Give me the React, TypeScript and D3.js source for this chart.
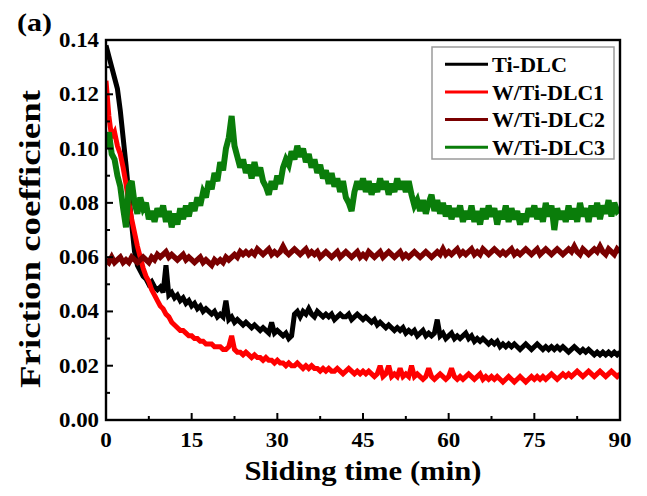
import React from "react";
import * as d3 from "d3";

// ---- data (friction coefficient sampled every 0.5 min, 0..90 min) ----
const TIME_STEP = 0.5;

const tiDLC = [
  0.138,0.134,0.130,0.126,0.122,0.114,0.104,0.094,0.083,0.072,
  0.062,0.057,0.055,0.053,0.052,0.050,0.051,0.049,0.048,0.049,
  0.047,0.057,0.046,0.047,0.045,0.046,0.044,0.045,0.043,0.044,
  0.042,0.043,0.041,0.042,0.040,0.041,0.040,0.039,0.040,0.038,
  0.039,0.038,0.044,0.037,0.038,0.036,0.037,0.036,0.035,0.036,
  0.035,0.034,0.035,0.034,0.033,0.034,0.033,0.032,0.036,0.032,
  0.033,0.032,0.031,0.032,0.030,0.031,0.039,0.040,0.038,0.040,
  0.039,0.041,0.039,0.038,0.040,0.039,0.038,0.039,0.038,0.039,
  0.037,0.038,0.039,0.038,0.038,0.039,0.037,0.038,0.039,0.038,
  0.037,0.038,0.037,0.036,0.037,0.035,0.036,0.035,0.034,0.035,
  0.034,0.033,0.034,0.033,0.034,0.032,0.033,0.032,0.033,0.031,
  0.032,0.033,0.031,0.032,0.031,0.032,0.037,0.031,0.032,0.030,
  0.031,0.032,0.030,0.031,0.030,0.031,0.032,0.030,0.031,0.029,
  0.030,0.029,0.030,0.029,0.028,0.029,0.028,0.029,0.027,0.028,
  0.027,0.028,0.027,0.028,0.027,0.026,0.027,0.028,0.027,0.026,
  0.027,0.028,0.027,0.026,0.027,0.026,0.027,0.026,0.027,0.026,
  0.027,0.026,0.025,0.026,0.027,0.026,0.025,0.026,0.025,0.026,
  0.025,0.024,0.025,0.024,0.025,0.024,0.025,0.024,0.025,0.024,
  0.025,
];

const wTiDLC1 = [
  0.125,0.112,0.104,0.106,0.101,0.098,0.093,0.087,0.080,0.074,
  0.069,0.064,0.060,0.056,0.053,0.051,0.048,0.046,0.044,0.042,
  0.041,0.039,0.038,0.036,0.035,0.034,0.033,0.033,0.032,0.031,
  0.031,0.030,0.030,0.029,0.029,0.028,0.028,0.028,0.027,0.027,
  0.027,0.026,0.026,0.027,0.031,0.026,0.025,0.025,0.024,0.025,
  0.024,0.023,0.024,0.023,0.023,0.022,0.023,0.022,0.022,0.021,
  0.022,0.021,0.021,0.020,0.021,0.020,0.020,0.021,0.020,0.019,
  0.020,0.019,0.020,0.019,0.019,0.018,0.019,0.018,0.019,0.018,
  0.018,0.019,0.018,0.017,0.018,0.019,0.018,0.017,0.018,0.017,
  0.018,0.017,0.018,0.017,0.016,0.017,0.020,0.016,0.017,0.020,
  0.016,0.017,0.016,0.019,0.016,0.017,0.016,0.020,0.016,0.017,
  0.016,0.015,0.016,0.019,0.016,0.015,0.016,0.017,0.016,0.015,
  0.016,0.019,0.016,0.015,0.016,0.015,0.016,0.017,0.016,0.015,
  0.016,0.017,0.015,0.016,0.015,0.016,0.015,0.016,0.015,0.014,
  0.015,0.016,0.015,0.014,0.015,0.016,0.015,0.014,0.015,0.016,
  0.015,0.016,0.015,0.016,0.015,0.016,0.017,0.016,0.015,0.016,
  0.017,0.016,0.017,0.016,0.017,0.018,0.017,0.016,0.017,0.018,
  0.017,0.016,0.017,0.018,0.017,0.016,0.017,0.018,0.017,0.016,
  0.017,
];

const wTiDLC2 = [
  0.059,0.058,0.060,0.058,0.059,0.060,0.058,0.059,0.058,0.060,
  0.059,0.058,0.059,0.060,0.059,0.058,0.060,0.059,0.061,0.060,
  0.061,0.062,0.060,0.061,0.060,0.059,0.060,0.061,0.059,0.060,
  0.059,0.058,0.059,0.060,0.058,0.059,0.058,0.057,0.059,0.058,
  0.059,0.058,0.060,0.059,0.060,0.061,0.060,0.062,0.061,0.062,
  0.061,0.062,0.061,0.063,0.062,0.061,0.062,0.063,0.061,0.062,
  0.061,0.062,0.064,0.062,0.061,0.062,0.063,0.062,0.061,0.062,
  0.063,0.061,0.062,0.061,0.062,0.060,0.061,0.062,0.061,0.060,
  0.061,0.062,0.060,0.061,0.062,0.061,0.060,0.061,0.062,0.060,
  0.061,0.060,0.062,0.061,0.060,0.061,0.062,0.060,0.061,0.062,
  0.061,0.060,0.061,0.062,0.060,0.061,0.060,0.061,0.062,0.061,
  0.060,0.061,0.062,0.061,0.060,0.061,0.062,0.061,0.063,0.061,
  0.062,0.061,0.062,0.063,0.061,0.062,0.061,0.062,0.063,0.061,
  0.062,0.061,0.063,0.062,0.061,0.062,0.063,0.062,0.061,0.062,
  0.061,0.062,0.063,0.061,0.062,0.061,0.062,0.063,0.062,0.061,
  0.062,0.063,0.061,0.062,0.063,0.062,0.061,0.062,0.063,0.062,
  0.061,0.062,0.063,0.062,0.064,0.062,0.061,0.063,0.062,0.061,
  0.062,0.063,0.062,0.064,0.062,0.061,0.063,0.062,0.061,0.063,
  0.062,
];

const wTiDLC3 = [
  0.100,0.106,0.098,0.096,0.090,0.086,0.078,0.071,0.086,0.088,
  0.080,0.076,0.082,0.078,0.080,0.074,0.077,0.073,0.078,0.075,
  0.079,0.073,0.077,0.071,0.076,0.072,0.078,0.074,0.079,0.075,
  0.080,0.077,0.082,0.079,0.084,0.082,0.088,0.085,0.091,0.088,
  0.095,0.092,0.100,0.104,0.112,0.101,0.097,0.093,0.096,0.091,
  0.094,0.089,0.095,0.090,0.093,0.088,0.086,0.083,0.088,0.085,
  0.090,0.087,0.093,0.096,0.094,0.099,0.096,0.101,0.097,0.100,
  0.095,0.098,0.093,0.096,0.091,0.094,0.089,0.092,0.087,0.091,
  0.086,0.089,0.084,0.088,0.082,0.080,0.077,0.084,0.088,0.085,
  0.089,0.084,0.088,0.083,0.087,0.084,0.089,0.085,0.088,0.083,
  0.087,0.084,0.089,0.085,0.088,0.084,0.088,0.083,0.079,0.081,
  0.077,0.081,0.076,0.080,0.083,0.077,0.081,0.076,0.080,0.075,
  0.079,0.074,0.078,0.075,0.079,0.073,0.077,0.074,0.079,0.073,
  0.077,0.072,0.078,0.074,0.079,0.075,0.078,0.072,0.077,0.074,
  0.079,0.073,0.078,0.074,0.077,0.072,0.076,0.073,0.078,0.075,
  0.079,0.074,0.078,0.073,0.080,0.075,0.079,0.070,0.078,0.074,
  0.077,0.073,0.079,0.074,0.078,0.073,0.080,0.075,0.078,0.073,
  0.079,0.075,0.080,0.074,0.079,0.076,0.081,0.075,0.080,0.077,
  0.078,
];

const seriesNames = ["Ti-DLC", "W/Ti-DLC1", "W/Ti-DLC2", "W/Ti-DLC3"];
const seriesValues = [tiDLC, wTiDLC1, wTiDLC2, wTiDLC3];
const seriesColors = ["#000000", "#ff0000", "#7a0000", "#0a7d0a"];

const xTicks = [0, 15, 30, 45, 60, 75, 90];
const xMinorTicks = [7.5, 22.5, 37.5, 52.5, 67.5, 82.5];
const yTicks = [0.0, 0.02, 0.04, 0.06, 0.08, 0.1, 0.12, 0.14];
const yMinorTicks = [0.01, 0.03, 0.05, 0.07, 0.09, 0.11, 0.13];

const xTitle = "Sliding time (min)";
const yTitle = "Friction coefficient";
const panelLabel = "(a)";

// ---- layout ----
const W = 647;
const H = 496;
const left = 106;
const right = 620;
const top = 40;
const bottom = 420;

function txtStyle(size: number): React.CSSProperties {
  return { fontFamily: '"Liberation Serif"', fontWeight: 700, fontSize: size };
}

export default function App() {
  const x = d3.scaleLinear().domain([0, 90]).range([left, right]);
  const y = d3.scaleLinear().domain([0, 0.14]).range([bottom, top]);

  const line = d3
    .line<number>()
    .x((_, i) => x(i * TIME_STEP))
    .y((d) => y(d));

  const legendX = 432;
  const legendY = 47;
  const legendW = 182;
  const legendH = 112;
  const rowY = [64.3, 92, 119.5, 147.3];
  const legendTextLen = [75, 112, 113, 113];
  const strokeW = [5, 5, 5.5, 6];

  return (
    <svg
      width={W}
      height={H}
      viewBox={`0 0 ${W} ${H}`}
      style={{ position: "absolute", left: 0, top: 0, background: "#fff" }}
    >
      <rect x={0} y={0} width={W} height={H} fill="#fff" />
      <defs>
        <clipPath id="plotClip">
          <rect x={left} y={top} width={right - left} height={bottom - top} />
        </clipPath>
      </defs>

      {/* data lines */}
      <g clipPath="url(#plotClip)">
        {seriesValues.map((vals, k) => (
          <path
            key={seriesNames[k]}
            d={line(vals) || ""}
            fill="none"
            stroke={seriesColors[k]}
            strokeWidth={strokeW[k]}
            strokeLinejoin="miter"
            strokeMiterlimit={3}
          />
        ))}
      </g>

      {/* frame */}
      <rect
        x={left}
        y={top}
        width={right - left}
        height={bottom - top}
        fill="none"
        stroke="#000"
        strokeWidth={2.4}
      />

      {/* x ticks */}
      {xTicks.map((t) => (
        <g key={"xt" + t}>
          <line x1={x(t)} x2={x(t)} y1={bottom} y2={bottom - 7} stroke="#000" strokeWidth={2} />
          <text
            x={x(t)}
            y={447}
            style={txtStyle(21)}
            textAnchor="middle"
            textLength={t === 0 ? 11.5 : 23}
            lengthAdjust="spacingAndGlyphs"
          >
            {t}
          </text>
        </g>
      ))}
      {xMinorTicks.map((t) => (
        <line key={"xm" + t} x1={x(t)} x2={x(t)} y1={bottom} y2={bottom - 4} stroke="#000" strokeWidth={2} />
      ))}

      {/* y ticks */}
      {yTicks.map((v) => (
        <g key={"yt" + v}>
          <line x1={left} x2={left + 7} y1={y(v)} y2={y(v)} stroke="#000" strokeWidth={2} />
          <text
            x={99}
            y={y(v) + 7}
            style={txtStyle(21)}
            textAnchor="end"
            textLength={40}
            lengthAdjust="spacingAndGlyphs"
          >
            {v.toFixed(2)}
          </text>
        </g>
      ))}
      {yMinorTicks.map((v) => (
        <line key={"ym" + v} x1={left} x2={left + 4} y1={y(v)} y2={y(v)} stroke="#000" strokeWidth={2} />
      ))}

      {/* axis titles */}
      <text
        x={(left + right) / 2}
        y={480}
        style={txtStyle(27.5)}
        textAnchor="middle"
        textLength={237}
        lengthAdjust="spacingAndGlyphs"
      >
        {xTitle}
      </text>
      <text
        transform={`translate(40, 239) rotate(-90)`}
        style={txtStyle(29)}
        textAnchor="middle"
        textLength={298}
        lengthAdjust="spacingAndGlyphs"
      >
        {yTitle}
      </text>
      <text x={17} y={31} style={txtStyle(25)} textLength={35} lengthAdjust="spacingAndGlyphs">
        {panelLabel}
      </text>

      {/* legend */}
      <rect
        x={legendX}
        y={legendY}
        width={legendW}
        height={legendH}
        fill="#fff"
        stroke="#9a9a9a"
        strokeWidth={1.5}
      />
      {seriesNames.map((name, k) => (
        <g key={"lg" + name}>
          <line
            x1={445}
            x2={488}
            y1={rowY[k]}
            y2={rowY[k]}
            stroke={seriesColors[k]}
            strokeWidth={3}
          />
          <text
            x={492}
            y={rowY[k] + 7.5}
            style={txtStyle(22)}
            textLength={legendTextLen[k]}
            lengthAdjust="spacingAndGlyphs"
          >
            {name}
          </text>
        </g>
      ))}
    </svg>
  );
}
